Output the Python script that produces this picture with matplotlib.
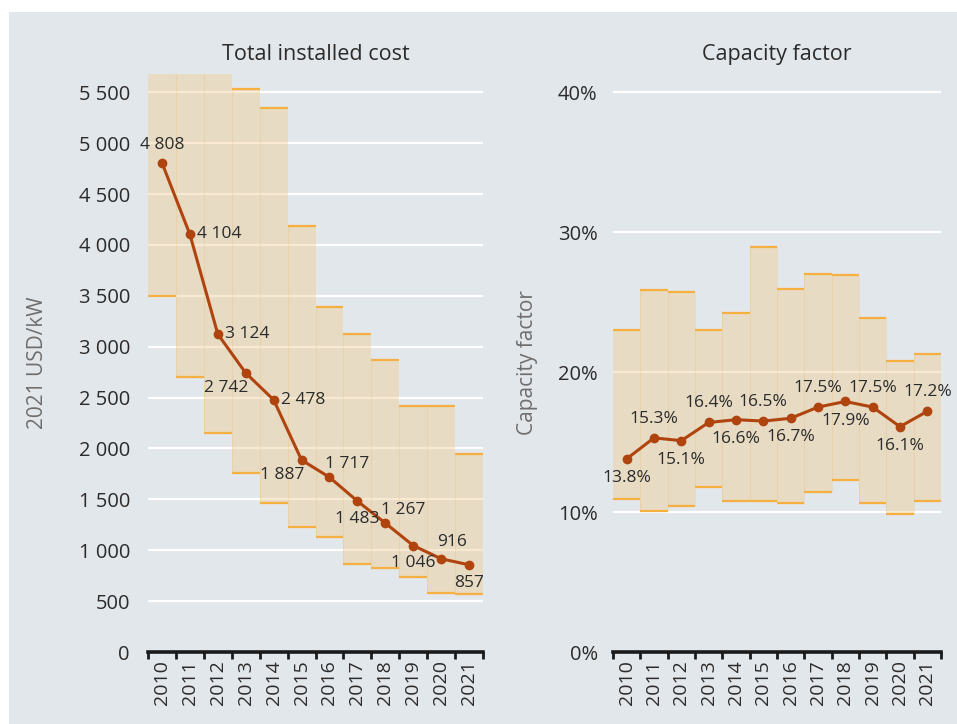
import matplotlib
matplotlib.use("Agg")
import matplotlib.pyplot as plt
import numpy as np
from matplotlib.patches import Rectangle

plt.rcParams['font.family'] = ['Open Sans', 'DejaVu Sans']

years = [str(y) for y in range(2010, 2022)]
cost_avg = [4808, 4104, 3124, 2742, 2478, 1887, 1717, 1483, 1267, 1046, 916, 857]
cost_low = [3500, 2700, 2150, 1760, 1465, 1230, 1130, 865, 825, 738, 580, 570]
cost_high = [5900, 5900, 5900, 5530, 5345, 4185, 3390, 3125, 2870, 2420, 2420, 1945]
cost_pos = ['above', 'right', 'right', 'belowleft', 'right', 'belowleft', 'aboveright', 'below', 'aboveright', 'below', 'above', 'below']

cf_avg = [13.8, 15.3, 15.1, 16.4, 16.6, 16.5, 16.7, 17.5, 17.9, 17.5, 16.1, 17.2]
cf_low = [10.9, 10.1, 10.4, 11.8, 10.8, 10.8, 10.65, 11.45, 12.3, 10.65, 9.85, 10.8]
cf_high = [23.0, 25.9, 25.7, 23.0, 24.2, 28.95, 25.95, 27.0, 26.95, 23.85, 20.8, 21.3]
cf_pos = ['below', 'above', 'below', 'above', 'below', 'above', 'below', 'above', 'below', 'above', 'below', 'above']

BG = '#e2e7ec'
BAR = '#f0c98a'
EDGE = '#f5b041'
LINE = '#b0440e'
TXT = '#2b2b2b'

fig = plt.figure(figsize=(9.57, 7.24), dpi=100, facecolor='white')
fig.patches.append(Rectangle((9/957, 0), 1, (724-12)/724, transform=fig.transFigure,
                             facecolor=BG, edgecolor='none', zorder=-10))

ax1 = fig.add_axes([148/957, (724-652)/724, (483-148)/957, (652-74)/724])
ax2 = fig.add_axes([613/957, (724-652)/724, (941-613)/957, (652-74)/724])

def style(ax, n, ypad):
    ax.set_facecolor('none')
    for s in ['left', 'right', 'top']:
        ax.spines[s].set_visible(False)
    ax.spines['bottom'].set_linewidth(2.6)
    ax.spines['bottom'].set_color('#1a1a1a')
    ax.set_xlim(-0.5, n - 0.5)
    ax.set_xticks(np.arange(n), labels=years, rotation=90, fontsize=14, color=TXT)
    ax.set_xticks(np.arange(n + 1) - 0.5, minor=True)
    ax.tick_params(axis='x', which='major', length=0, pad=6)
    ax.tick_params(axis='x', which='minor', length=5, width=2, color='#1a1a1a', direction='out')
    ax.tick_params(axis='y', length=0, pad=ypad, labelsize=14.5, labelcolor=TXT)
    ax.grid(axis='y', color='white', linewidth=1.6, zorder=0)
    ax.set_axisbelow(True)

x = np.arange(len(years))

offs = {'above': ((0, 7), 'center', 'bottom'),
        'below': ((0, -7), 'center', 'top'),
        'right': ((5, 0), 'left', 'center'),
        'belowleft': ((-14, -5), 'center', 'top'),
        'aboveright': ((13, 4), 'center', 'bottom')}

# Left panel
style(ax1, len(years), 13)
ax1.set_ylim(0, 5680)
yt = np.arange(0, 5501, 500)
ax1.set_yticks(yt, labels=[f"{v:,}".replace(',', ' ') for v in yt])
ax1.bar(x, np.array(cost_high) - np.array(cost_low), bottom=cost_low, width=1.0,
        color=BAR, alpha=0.4, edgecolor='none', zorder=1)
ax1.vlines(x[1:] - 0.5, np.minimum(cost_low[1:], cost_high[:-1]), np.maximum(cost_high[1:], cost_low[:-1]),
           color=EDGE, alpha=0.2, lw=0.8, zorder=1.5)
ax1.hlines(cost_high, x - 0.5, x + 0.5, color=EDGE, lw=1.6, zorder=2)
ax1.hlines(cost_low, x - 0.5, x + 0.5, color=EDGE, lw=1.6, zorder=2)
ax1.plot(x, cost_avg, color=LINE, lw=2.2, marker='o', ms=6, zorder=4)
ax1.set_title('Total installed cost', fontsize=15.5, color=TXT, pad=10)
ax1.set_ylabel('2021 USD/kW', fontsize=15, color='#6e6e6e')
ax1.yaxis.set_label_coords(-0.30, 0.5)

for xi, v, p in zip(x, cost_avg, cost_pos):
    o, ha, va = offs[p]
    if xi == 10:
        o = (8, 6)
    ax1.annotate(f"{v:,}".replace(',', ' '), (xi, v), xytext=o, textcoords='offset points',
                 ha=ha, va=va, fontsize=12.5, color=TXT, zorder=5)

# Right panel
style(ax2, len(years), 11)
ax2.set_ylim(0, 41.3)
ax2.set_yticks([0, 10, 20, 30, 40], labels=['0%', '10%', '20%', '30%', '40%'])
ax2.bar(x, np.array(cf_high) - np.array(cf_low), bottom=cf_low, width=1.0,
        color=BAR, alpha=0.4, edgecolor='none', zorder=1)
ax2.vlines(x[1:] - 0.5, np.minimum(cf_low[1:], cf_low[:-1]), np.maximum(cf_high[1:], cf_high[:-1]),
           color=EDGE, alpha=0.2, lw=0.8, zorder=1.5)
ax2.hlines(cf_high, x - 0.5, x + 0.5, color=EDGE, lw=1.6, zorder=2)
ax2.hlines(cf_low, x - 0.5, x + 0.5, color=EDGE, lw=1.6, zorder=2)
ax2.plot(x, cf_avg, color=LINE, lw=2.2, marker='o', ms=6, zorder=4)
ax2.set_title('Capacity factor', fontsize=15.5, color=TXT, pad=10)
ax2.set_ylabel('Capacity factor', fontsize=15, color='#6e6e6e')
ax2.yaxis.set_label_coords(-0.229, 0.5)
for xi, v, p in zip(x, cf_avg, cf_pos):
    o, ha, va = offs[p]
    o = (o[0], o[1] + (1 if p == 'above' else -1))
    ax2.annotate(f"{v:.1f}%", (xi, v), xytext=o, textcoords='offset points',
                 ha=ha, va=va, fontsize=12.5, color=TXT, zorder=5)

fig.savefig('out.png', dpi=100, facecolor='white')
